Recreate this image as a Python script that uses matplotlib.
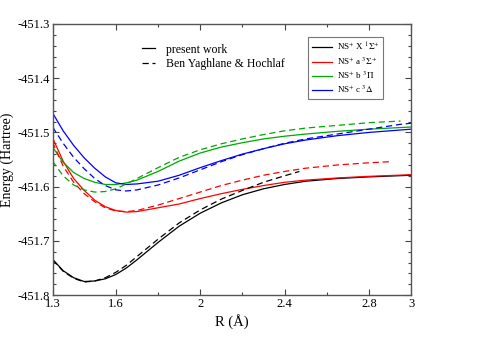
import matplotlib
matplotlib.use('Agg')
import matplotlib.pyplot as plt
from matplotlib.lines import Line2D
from matplotlib.ticker import MultipleLocator, FixedLocator

plt.rcParams['font.family'] = ['Liberation Serif', 'DejaVu Serif']
plt.rcParams['mathtext.fontset'] = 'stix'

# bond length grid (Angstrom)
r_full = [1.30, 1.35, 1.40, 1.45, 1.50, 1.55, 1.60, 1.65, 1.70, 1.80, 1.90,
          2.00, 2.10, 2.20, 2.30, 2.40, 2.50, 2.65, 2.80, 3.00]

# present work (solid)
x_state = [-451.734, -451.755, -451.768, -451.775, -451.774, -451.770, -451.762,
           -451.750, -451.735, -451.703, -451.673, -451.649, -451.630, -451.615,
           -451.604, -451.596, -451.590, -451.585, -451.582, -451.579]
a_state = [-451.510, -451.553, -451.585, -451.607, -451.625, -451.637, -451.644,
           -451.647, -451.646, -451.639, -451.632, -451.622, -451.613, -451.605,
           -451.598, -451.592, -451.588, -451.584, -451.581, -451.578]
b_state = [-451.527, -451.555, -451.574, -451.585, -451.592, -451.596, -451.596,
           -451.593, -451.588, -451.572, -451.553, -451.538, -451.527, -451.519,
           -451.512, -451.507, -451.503, -451.498, -451.494, -451.490]
c_state = [-451.464, -451.497, -451.524, -451.547, -451.566, -451.582, -451.593,
           -451.596, -451.595, -451.590, -451.579, -451.565, -451.552, -451.540,
           -451.530, -451.521, -451.514, -451.506, -451.500, -451.494]

# Ben Yaghlane & Hochlaf (dashed)
r_x_ref = [1.30, 1.35, 1.40, 1.45, 1.50, 1.55, 1.60, 1.65, 1.70, 1.80, 1.90,
           2.00, 2.10, 2.20, 2.30, 2.40, 2.47]
x_ref = [-451.735, -451.756, -451.769, -451.776, -451.774, -451.768, -451.758,
         -451.745, -451.729, -451.697, -451.667, -451.643, -451.623, -451.607,
         -451.592, -451.580, -451.572]
r_a_ref = [1.30, 1.35, 1.40, 1.45, 1.50, 1.55, 1.60, 1.65, 1.70, 1.80, 1.90,
           2.00, 2.10, 2.20, 2.30, 2.40, 2.50, 2.65, 2.80, 2.90]
a_ref = [-451.518, -451.562, -451.592, -451.613, -451.628, -451.639, -451.645,
         -451.646, -451.644, -451.634, -451.622, -451.610, -451.598, -451.588,
         -451.579, -451.572, -451.566, -451.560, -451.556, -451.554]
r_b_ref = [1.30, 1.35, 1.40, 1.45, 1.50, 1.55, 1.60, 1.65, 1.70, 1.80, 1.90,
           2.00, 2.10, 2.20, 2.30, 2.40, 2.50, 2.65, 2.80, 2.95]
b_ref = [-451.553, -451.580, -451.597, -451.606, -451.610, -451.609, -451.604,
         -451.595, -451.585, -451.565, -451.546, -451.532, -451.521, -451.512,
         -451.504, -451.497, -451.492, -451.487, -451.482, -451.479]
r_c_ref = [1.30, 1.35, 1.40, 1.45, 1.50, 1.55, 1.60, 1.65, 1.70, 1.80, 1.90,
           2.00, 2.10, 2.20, 2.30, 2.40, 2.50, 2.65, 2.80, 2.95, 3.00]
c_ref = [-451.490, -451.520, -451.546, -451.567, -451.585, -451.598, -451.606,
         -451.608, -451.606, -451.597, -451.584, -451.569, -451.554, -451.541,
         -451.530, -451.520, -451.512, -451.503, -451.494, -451.485, -451.483]

labels = [r'NS$^{+}$ X $^{1}\Sigma^{+}$', r'NS$^{+}$ a $^{3}\Sigma^{+}$',
          r'NS$^{+}$ b $^{3}\Pi$', r'NS$^{+}$ c $^{3}\Delta$']
colors = ['black', 'red', '#00a800', 'blue']

fig = plt.figure(figsize=(4.78, 3.38), dpi=100)
ax = fig.add_axes([0.110, 0.127, 0.750, 0.802])

lw = 0.9
dash = (0, (5, 3))
solid_curves = [x_state, a_state, b_state, c_state]
ref_curves = [(r_x_ref, x_ref), (r_a_ref, a_ref), (r_b_ref, b_ref), (r_c_ref, c_ref)]
for y, c in zip(solid_curves, colors):
    ax.plot(r_full, y, color=c, lw=lw)
for (rr, y), c in zip(ref_curves, colors):
    ax.plot(rr, y, color=c, lw=lw, linestyle=dash)

ax.set_xlim(1.3, 3.0)
ax.set_ylim(-451.8, -451.3)
ax.xaxis.set_major_locator(FixedLocator([1.3, 1.6, 2.0, 2.4, 2.8, 3.0]))
ax.xaxis.set_minor_locator(FixedLocator([1.8, 2.2, 2.6]))
ax.set_xticklabels(['1.3', '1.6', '2', '2.4', '2.8', '3'])
ax.yaxis.set_major_locator(MultipleLocator(0.1))
ax.yaxis.set_minor_locator(MultipleLocator(0.02))
ax.yaxis.set_major_formatter(plt.FuncFormatter(lambda v, p: f'{v:.1f}'))
ax.tick_params(which='both', direction='in', top=True, right=True,
               labelsize=9, color='#444444', pad=2)
ax.tick_params(which='major', length=4.5, width=0.8)
ax.tick_params(which='minor', length=2.3, width=0.8)
for s in ax.spines.values():
    s.set_color('#555555')
    s.set_linewidth(1.0)

ax.set_xlabel('R (Å)', fontsize=10.5, labelpad=3)
ax.set_ylabel('Energy (Hartree)', fontsize=10)
ax.yaxis.set_label_coords(-0.108, 0.5)

state_handles = [Line2D([], [], color=c, lw=lw) for c in colors]
leg1 = ax.legend(state_handles, labels, loc='upper right',
                 bbox_to_anchor=(0.923, 0.952), borderaxespad=0, fontsize=6.5,
                 frameon=True, fancybox=False, edgecolor='#555555',
                 handlelength=2.2, handletextpad=0.6, borderpad=0.4,
                 labelspacing=0.3)
leg1.get_frame().set_linewidth(0.8)
ax.add_artist(leg1)

style_handles = [Line2D([], [], color='black', lw=lw),
                 Line2D([], [], color='black', lw=lw, linestyle=dash)]
ax.legend(style_handles, ['present work', 'Ben Yaghlane & Hochlaf'],
          loc='upper left', bbox_to_anchor=(0.235, 0.945), borderaxespad=0,
          fontsize=8.5, frameon=False, handlelength=1.1, handletextpad=1.0,
          labelspacing=0.2)

fig.savefig('out.png', dpi=100)
